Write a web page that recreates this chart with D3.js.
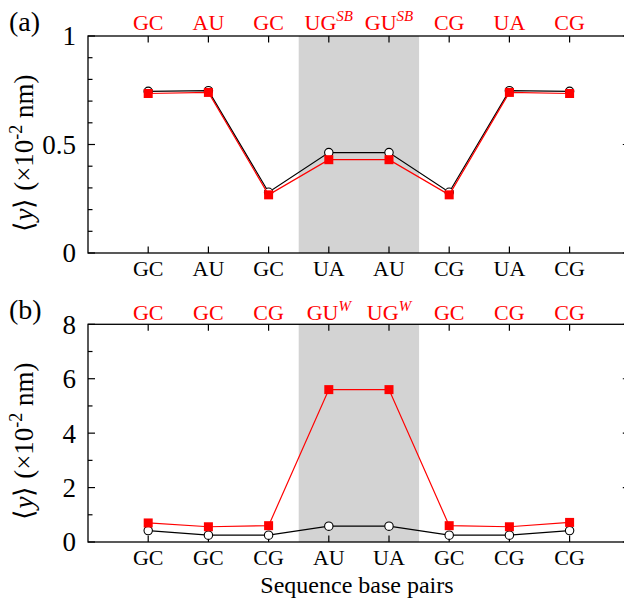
<!DOCTYPE html>
<html>
<head>
<meta charset="utf-8">
<script src="https://cdn.jsdelivr.net/npm/d3@7"></script>
<style>
  html, body { margin: 0; padding: 0; background: #fff; }
  svg { display: block; }
  text { font-family: "Liberation Serif", "Times New Roman", serif; }
</style>
</head>
<body>
<svg id="chart" width="624" height="601"></svg>
<script>
// ---------------- data ----------------
const bottomA = ["GC", "AU", "GC", "UA", "AU", "CG", "UA", "CG"];
const topA = ["GC", "AU", "GC", "UG", "GU", "CG", "UA", "CG"];
const topSupA = ["", "", "", "SB", "SB", "", "", ""];
const blackA = [0.745, 0.748, 0.28, 0.463, 0.463, 0.28, 0.748, 0.745];
const redA = [0.735, 0.740, 0.268, 0.430, 0.430, 0.268, 0.740, 0.735];
const yTicksA = [0, 0.5, 1];
const yTickLabelsA = ["0", "0.5", "1"];

const bottomB = ["GC", "GC", "CG", "AU", "UA", "GC", "CG", "CG"];
const topB = ["GC", "GC", "CG", "GU", "UG", "GC", "CG", "CG"];
const topSupB = ["", "", "", "W", "W", "", "", ""];
const blackB = [0.42, 0.25, 0.25, 0.58, 0.58, 0.25, 0.25, 0.42];
const redB = [0.70, 0.56, 0.60, 5.60, 5.60, 0.60, 0.56, 0.72];
const yTicksB = [0, 2, 4, 6, 8];
const yTickLabelsB = ["0", "2", "4", "6", "8"];

const shadeRange = [3.5, 5.5];
const xLabel = "Sequence base pairs";

// ---------------- drawing ----------------
const svg = d3.select("#chart");
const left = 88, right = 629.8;
const x = d3.scaleLinear().domain([0, 9]).range([left, right]);

function panel(cfg) {
  const y = d3.scaleLinear().domain(cfg.yDomain).range([cfg.bottom, cfg.top]);
  const g = svg.append("g");

  // shading
  g.append("rect")
    .attr("x", x(shadeRange[0])).attr("y", cfg.top)
    .attr("width", x(shadeRange[1]) - x(shadeRange[0]))
    .attr("height", cfg.bottom - cfg.top)
    .attr("fill", "#d3d3d3");

  // minor/major ticks left & right
  const minor = d3.range(cfg.yDomain[0], cfg.yDomain[1] + cfg.minorStep / 2, cfg.minorStep);
  minor.forEach(v => {
    const isMajor = cfg.yTicks.some(t => Math.abs(t - v) < 1e-6);
    const len = isMajor ? 7 : 4.5;
    g.append("line").attr("x1", left).attr("x2", left + len)
      .attr("y1", y(v)).attr("y2", y(v)).attr("stroke", "#000").attr("stroke-width", 1.2);
    g.append("line").attr("x1", right).attr("x2", right - len)
      .attr("y1", y(v)).attr("y2", y(v)).attr("stroke", "#000").attr("stroke-width", 1.2);
  });

  // x ticks top & bottom
  cfg.bottomLabels.forEach((d, i) => {
    const xp = x(i + 1);
    g.append("line").attr("x1", xp).attr("x2", xp).attr("y1", cfg.bottom).attr("y2", cfg.bottom - 6.5)
      .attr("stroke", "#000").attr("stroke-width", 1.2);
    g.append("line").attr("x1", xp).attr("x2", xp).attr("y1", cfg.top).attr("y2", cfg.top + 6.5)
      .attr("stroke", "#000").attr("stroke-width", 1.2);
  });

  // frame
  g.append("rect").attr("x", left).attr("y", cfg.top)
    .attr("width", right - left).attr("height", cfg.bottom - cfg.top)
    .attr("fill", "none").attr("stroke", "#000").attr("stroke-width", 1.3);

  // y tick labels
  cfg.yTicks.forEach((t, i) => {
    g.append("text").attr("x", 76).attr("y", y(t)).attr("dy", "0.35em")
      .attr("text-anchor", "end").attr("font-size", 27).attr("fill", "#000")
      .text(cfg.yTickLabels[i]);
  });

  // bottom labels
  cfg.bottomLabels.forEach((d, i) => {
    g.append("text").attr("x", x(i + 1)).attr("y", cfg.bottom + 23)
      .attr("text-anchor", "middle").attr("font-size", 22).attr("fill", "#000").text(d);
  });

  // top labels (red)
  cfg.topLabels.forEach((d, i) => {
    const t = g.append("text").attr("x", x(i + 1)).attr("y", cfg.top - cfg.topGap)
      .attr("text-anchor", "middle").attr("font-size", 22).attr("fill", "#ff0000");
    t.append("tspan").text(d);
    if (cfg.topSup[i]) {
      t.append("tspan").attr("dy", -9).attr("font-size", 15).attr("font-style", "italic").text(cfg.topSup[i]);
    }
  });

  // lines + markers
  const line = d3.line().x((d, i) => x(i + 1)).y(d => y(d));
  g.append("path").datum(cfg.black).attr("d", line)
    .attr("fill", "none").attr("stroke", "#000").attr("stroke-width", 1.2);
  g.selectAll(null).data(cfg.black).enter().append("circle")
    .attr("cx", (d, i) => x(i + 1)).attr("cy", d => y(d)).attr("r", 4.2)
    .attr("fill", "#fff").attr("stroke", "#000").attr("stroke-width", 1.1);
  g.append("path").datum(cfg.red).attr("d", line)
    .attr("fill", "none").attr("stroke", "#ff0000").attr("stroke-width", 1.2);
  const s = 9;
  g.selectAll(null).data(cfg.red).enter().append("rect")
    .attr("x", (d, i) => x(i + 1) - s / 2).attr("y", d => y(d) - s / 2)
    .attr("width", s).attr("height", s).attr("fill", "#ff0000");

  // panel letter
  g.append("text").attr("x", 9).attr("y", cfg.top - 5).attr("font-size", 28).attr("fill", "#000")
    .text(cfg.letter);

  // y label
  const yl = g.append("text")
    .attr("transform", `translate(33,${cfg.labelY}) rotate(-90)`)
    .attr("text-anchor", "middle").attr("font-size", 27).attr("fill", "#000");
  yl.append("tspan").text("\u27E8");
  yl.append("tspan").attr("font-style", "italic").text("y");
  yl.append("tspan").text("\u27E9 (\u00D710");
  yl.append("tspan").attr("dy", -11).attr("font-size", 18).text("-2");
  yl.append("tspan").attr("dy", 11).text(" nm)");
}

panel({
  top: 36, bottom: 253, yDomain: [0, 1], minorStep: 0.1,
  yTicks: yTicksA, yTickLabels: yTickLabelsA,
  bottomLabels: bottomA, topLabels: topA, topSup: topSupA,
  black: blackA, red: redA, letter: "(a)", labelY: 153, topGap: 6
});
panel({
  top: 324.3, bottom: 542, yDomain: [0, 8], minorStep: 1,
  yTicks: yTicksB, yTickLabels: yTickLabelsB,
  bottomLabels: bottomB, topLabels: topB, topSup: topSupB,
  black: blackB, red: redB, letter: "(b)", labelY: 441, topGap: 4.5
});

svg.append("text").attr("x", 357).attr("y", 593).attr("text-anchor", "middle")
  .attr("font-size", 24).attr("fill", "#000").text(xLabel);
</script>
</body>
</html>
